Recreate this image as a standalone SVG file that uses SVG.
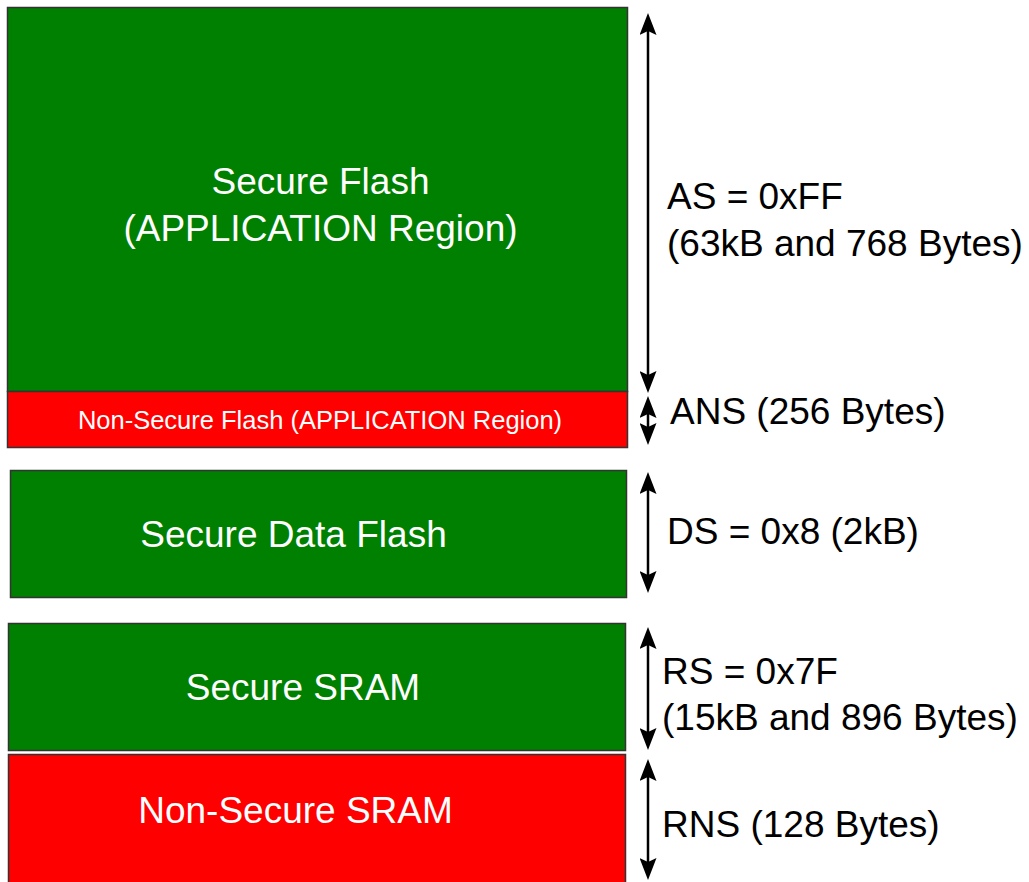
<svg xmlns="http://www.w3.org/2000/svg" width="1029" height="882" viewBox="0 0 1029 882">
<style>
.box{stroke:#333;stroke-width:1.5}
.g{fill:#008000}
.r{fill:#ff0000}
.in{fill:#fff;font-family:"Liberation Sans",Arial,sans-serif;font-size:37px;text-anchor:middle}
.sm{font-size:25.5px}
.out{fill:#000;font-family:"Liberation Sans",Arial,sans-serif;font-size:37px}
.arr{stroke:#000;stroke-width:2.5;fill:none;marker-start:url(#ah);marker-end:url(#ah)}
</style>
<defs>
<marker id="ah" viewBox="0 0 22 17" refX="12" refY="8.5" markerWidth="22" markerHeight="17" markerUnits="userSpaceOnUse" orient="auto-start-reverse">
<path d="M0,0 L22,8.5 L0,17 L4,8.5 z" fill="#000"/>
</marker>
</defs>
<rect width="1029" height="882" fill="#fff"/>
<g id="secure-flash">
<rect class="box g" x="7.5" y="7.5" width="620" height="384"/>
<text class="in" x="320.5" y="194">Secure Flash</text>
<text class="in" x="320.5" y="241">(APPLICATION Region)</text>
</g>
<g id="nonsecure-flash">
<rect class="box r" x="7.5" y="391.5" width="620" height="56"/>
<text class="in sm" x="320" y="429">Non-Secure Flash (APPLICATION Region)</text>
</g>
<g id="secure-data-flash">
<rect class="box g" x="10.5" y="470.5" width="616" height="127"/>
<text class="in" x="293.5" y="547">Secure Data Flash</text>
</g>
<g id="secure-sram">
<rect class="box g" x="8.5" y="623.5" width="617" height="127"/>
<text class="in" x="303" y="700">Secure SRAM</text>
</g>
<g id="nonsecure-sram">
<rect class="box r" x="8.5" y="754.5" width="617" height="140"/>
<text class="in" x="295.5" y="823">Non-Secure SRAM</text>
</g>
<g id="connectors">
<line class="arr" x1="648" y1="23" x2="648" y2="383"/>
<line class="arr" x1="648" y1="406" x2="648" y2="435"/>
<line class="arr" x1="648" y1="482" x2="648" y2="583"/>
<line class="arr" x1="648" y1="637" x2="648" y2="740"/>
<line class="arr" x1="648" y1="769" x2="648" y2="870"/>
</g>
<g id="labels">
<text class="out" x="667" y="209">AS = 0xFF</text>
<text class="out" x="667" y="256">(63kB and 768 Bytes)</text>
<text class="out" x="670" y="424">ANS (256 Bytes)</text>
<text class="out" x="667" y="544">DS = 0x8 (2kB)</text>
<text class="out" x="662" y="684">RS = 0x7F</text>
<text class="out" x="662" y="730">(15kB and 896 Bytes)</text>
<text class="out" x="662" y="837">RNS (128 Bytes)</text>
</g>
</svg>
